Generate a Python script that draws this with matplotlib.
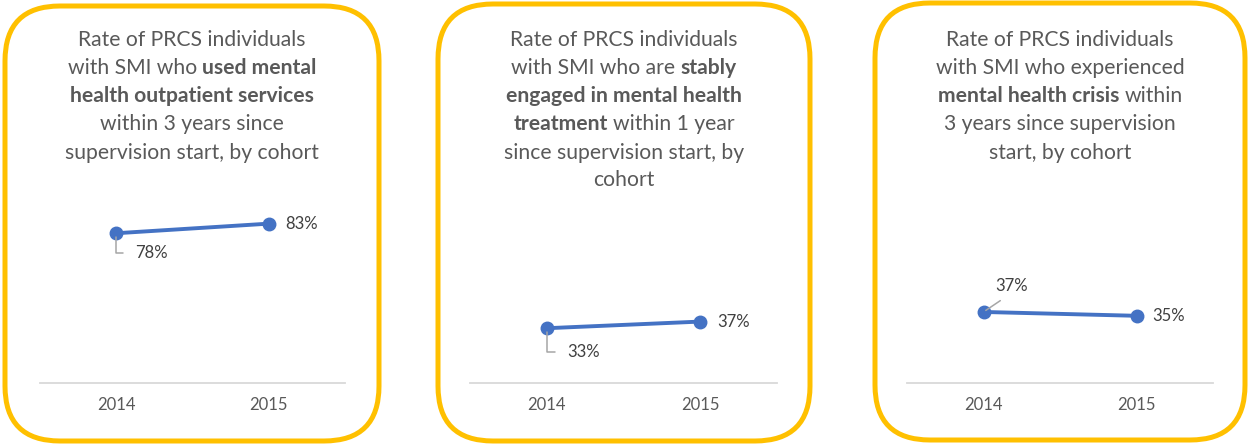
import matplotlib
matplotlib.use("Agg")
import matplotlib.pyplot as plt
from matplotlib.patches import FancyBboxPatch
from matplotlib.transforms import IdentityTransform

plt.rcParams['font.family'] = ['Lato', 'DejaVu Sans']

W, H = 1250, 447

years = ['2014', '2015']
outpatient = [78, 83]
engaged = [33, 37]
crisis = [37, 35]

titles = [
    [[("Rate of PRCS individuals", False)],
     [("with SMI who", False), ("used mental", True)],
     [("health outpatient services", True)],
     [("within 3 years since", False)],
     [("supervision start, by cohort", False)]],
    [[("Rate of PRCS individuals", False)],
     [("with SMI who are", False), ("stably", True)],
     [("engaged in mental health", True)],
     [("treatment", True), ("within 1 year", False)],
     [("since supervision start, by", False)],
     [("cohort", False)]],
    [[("Rate of PRCS individuals", False)],
     [("with SMI who experienced", False)],
     [("mental health crisis", True), ("within", False)],
     [("3 years since supervision", False)],
     [("start, by cohort", False)]],
]

BLUE = '#4472C4'
GOLD = '#FFC000'
TEXT = '#595959'
LABEL = '#404040'
LEADER = '#A6A6A6'

fig = plt.figure(figsize=(W / 100, H / 100), dpi=100)
renderer = fig.canvas.get_renderer()


def px_rect(left, top, right, bottom):
    return [left / W, 1 - bottom / H, (right - left) / W, (bottom - top) / H]


def rich_line(cx, y, parts, size=15.2):
    # lay out bold / regular runs side by side, centred on cx (pixels)
    probe = fig.text(0, 0, "x x", fontsize=size)
    probe2 = fig.text(0, 0, "xx", fontsize=size)
    space = probe.get_window_extent(renderer).width - probe2.get_window_extent(renderer).width
    probe.remove()
    probe2.remove()
    texts = [fig.text(0, 1 - y / H, s, fontsize=size, color=TEXT,
                      fontweight='bold' if b else 'normal', va='center', ha='left')
             for s, b in parts]
    widths = [t.get_window_extent(renderer).width for t in texts]
    total = sum(widths) + space * (len(texts) - 1)
    x = cx - total / 2
    for t, w in zip(texts, widths):
        t.set_x(x / W)
        x += w + space


# panel frames: (left, top, right, bottom) in pixels
frames = [(5, 6, 379, 441), (438, 4, 810, 441), (875, 3, 1245, 440)]
for l, t, r, b in frames:
    box = FancyBboxPatch((l, H - b), r - l, b - t,
                         boxstyle="round,pad=0,rounding_size=55",
                         transform=IdentityTransform(), fill=False,
                         edgecolor=GOLD, linewidth=3.6)
    fig.patches.append(box)

centers = [192, 624, 1060]
line_ys = [40, 68, 96.5, 124.5, 153, 180.5]
for cx, lines in zip(centers, titles):
    for y, parts in zip(line_ys, lines):
        rich_line(cx, y, parts)

series = [outpatient, engaged, crisis]
axes_px = [(40, 191, 345, 383), (470, 217, 777, 383), (907, 191, 1213, 383)]
first_label = [
    dict(xytext=(19, -20), elbow=True),
    dict(xytext=(21, -24), elbow=True),
    dict(xytext=(12, 26), elbow=False),
]
second_offset = [16, 17, 16]

for vals, rect, fl, off in zip(series, axes_px, first_label, second_offset):
    ax = fig.add_axes(px_rect(*rect))
    x = range(len(years))
    ax.plot(x, vals, color=BLUE, lw=2.8, marker='o', ms=9, solid_capstyle='round')
    ax.set_xlim(-0.5, 1.5)
    ax.set_ylim(0, 100)
    ax.set_yticks([])
    ax.set_xticks(list(x))
    ax.set_xticklabels(years, fontsize=12, color=TEXT)
    ax.tick_params(axis='x', length=0, pad=10)
    for s in ['top', 'left', 'right']:
        ax.spines[s].set_visible(False)
    ax.spines['bottom'].set_color('#D9D9D9')
    ax.spines['bottom'].set_linewidth(1.3)
    ax.patch.set_alpha(0)

    if fl['elbow']:
        arrow = dict(arrowstyle='-', color=LEADER, lw=1.1,
                     connectionstyle='angle,angleA=0,angleB=90,rad=0',
                     shrinkA=7, shrinkB=3, relpos=(0, 0.5))
    else:
        arrow = dict(arrowstyle='-', color=LEADER, lw=1.1,
                     shrinkA=5, shrinkB=2, relpos=(0.45, 0))
    ax.annotate(f"{vals[0]}%", xy=(0, vals[0]), xytext=fl['xytext'],
                textcoords='offset pixels', ha='left', va='center',
                fontsize=12, color=LABEL, arrowprops=arrow)
    ax.annotate(f"{vals[1]}%", xy=(1, vals[1]), xytext=(off, 0),
                textcoords='offset pixels', ha='left', va='center',
                fontsize=12, color=LABEL)

fig.savefig('out.png', dpi=100, facecolor='white')
